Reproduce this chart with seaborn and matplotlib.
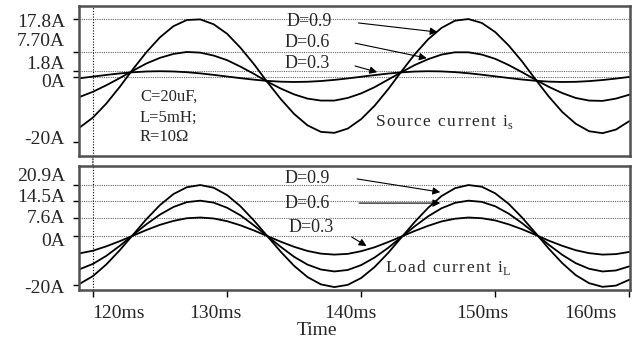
import matplotlib
matplotlib.use('Agg')
import matplotlib.pyplot as plt
import seaborn as sns
from matplotlib.patches import ConnectionPatch
from matplotlib.transforms import ScaledTranslation

# time axis (ms), one sample per ms
time_ms = list(range(119, 161))

# source current i_s (A)
src_d09 = [-15.5, -12.4, -8.1, -3.0, 2.5, 7.7, 12.2, 15.6, 17.5, 17.7,
           16.2, 13.3, 9.0, 4.0, -1.5, -6.7, -11.3, -14.8, -16.8, -17.1,
           -15.8, -12.9, -8.8, -3.8, 1.7, 7.0, 11.6, 15.1, 17.3, 17.8,
           16.6, 13.8, 9.7, 4.8, -0.7, -6.0, -10.7, -14.3, -16.6, -17.2,
           -16.1, -13.5]
src_d06 = [-6.1, -4.5, -2.5, -0.3, 2.0, 4.2, 5.9, 7.1, 7.7, 7.5,
           6.6, 5.2, 3.2, 1.0, -1.4, -3.5, -5.3, -6.6, -7.2, -7.2,
           -6.4, -5.0, -3.1, -0.8, 1.5, 3.7, 5.5, 6.9, 7.6, 7.6,
           6.9, 5.6, 3.7, 1.5, -0.8, -3.0, -4.9, -6.4, -7.2, -7.3,
           -6.6, -5.4]
src_d03 = [-0.36, 0.15, 0.66, 1.12, 1.48, 1.72, 1.80, 1.72, 1.50, 1.14,
           0.68, 0.18, -0.33, -0.79, -1.17, -1.41, -1.50, -1.43, -1.21, -0.86,
           -0.41, 0.10, 0.61, 1.07, 1.45, 1.70, 1.80, 1.74, 1.52, 1.18,
           0.73, 0.23, -0.28, -0.75, -1.13, -1.39, -1.50, -1.45, -1.24, -0.90,
           -0.46, 0.05]

# load current i_L (A)
load_d09 = [-19.6, -16.4, -11.6, -5.8, 0.6, 7.0, 12.7, 17.2, 20.0, 20.9,
            19.8, 16.8, 12.2, 6.4, 0.0, -6.4, -12.2, -16.8, -19.8, -20.9,
            -20.0, -17.2, -12.7, -7.0, -0.6, 5.8, 11.6, 16.4, 19.6, 20.9,
            20.2, 17.5, 13.2, 7.6, 1.3, -5.2, -11.1, -16.0, -19.3, -20.8,
            -20.3, -17.9]
load_d06 = [-13.6, -11.4, -8.1, -4.0, 0.5, 4.9, 8.8, 11.9, 13.9, 14.5,
            13.7, 11.6, 8.5, 4.4, 0.0, -4.4, -8.5, -11.7, -13.7, -14.5,
            -13.9, -11.9, -8.8, -4.9, -0.4, 4.0, 8.1, 11.4, 13.6, 14.5,
            14.0, 12.2, 9.2, 5.3, 0.9, -3.6, -7.7, -11.1, -13.4, -14.5,
            -14.1, -12.4]
load_d03 = [-7.1, -6.0, -4.2, -2.1, 0.2, 2.5, 4.6, 6.2, 7.3, 7.6,
            7.2, 6.1, 4.4, 2.3, 0.0, -2.3, -4.4, -6.1, -7.2, -7.6,
            -7.3, -6.2, -4.6, -2.5, -0.2, 2.1, 4.2, 6.0, 7.1, 7.6,
            7.3, 6.4, 4.8, 2.8, 0.5, -1.9, -4.0, -5.8, -7.0, -7.6,
            -7.4, -6.5]

src_ticks = [17.8, 7.70, 1.8, 0, -20]
src_labels = ['17.8A', '7.70A', '1.8A', '0A', '-20A']
load_ticks = [20.9, 14.5, 7.6, 0, -20]
load_labels = ['20.9A', '14.5A', '7.6A', '0A', '-20A']
x_ticks = [120, 130, 140, 150, 160]
x_labels = ['120ms', '130ms', '140ms', '150ms', '160ms']

sns.set_style('white')
plt.rcParams['font.family'] = ['Liberation Serif', 'DejaVu Serif']
plt.rcParams['mathtext.fontset'] = 'custom'
plt.rcParams['mathtext.rm'] = 'Liberation Serif'


def spaced(s):
    # loose letter spacing as in the original plot annotations
    return '\u200a'.join(s)


fig = plt.figure(figsize=(6.36, 3.4), dpi=100)
ax1 = fig.add_axes([79 / 636, 1 - 156 / 340, 551 / 636, 150 / 340])
ax2 = fig.add_axes([79 / 636, 1 - 290 / 340, 551 / 636, 124 / 340])

for ax, series in [(ax1, [src_d09, src_d06, src_d03]),
                   (ax2, [load_d09, load_d06, load_d03])]:
    for s in series:
        sns.lineplot(x=time_ms, y=s, ax=ax, color='black', lw=1.3, legend=False)

ax1.set_xlim(118.96, 160.05)
ax2.set_xlim(118.96, 160.05)
ax1.set_ylim(-24.2, 21.8)
ax2.set_ylim(-22.1, 28.7)

grid_kw = dict(color='#666666', lw=0.8, ls=(0, (1, 1)), zorder=0)
for v in src_ticks[:4]:
    ax1.axhline(v, **grid_kw)
for v in load_ticks[:4]:
    ax2.axhline(v, **grid_kw)

vkw = dict(color='black', lw=0.8, ls=(0, (1, 1.5)), zorder=0)
ax1.axvline(120, **vkw)
ax2.axvline(120, **vkw)
con = ConnectionPatch(xyA=(120, -24.2), coordsA=ax1.transData,
                      xyB=(120, 28.7), coordsB=ax2.transData, **vkw)
fig.add_artist(con)

for ax in (ax1, ax2):
    for sp in ax.spines.values():
        sp.set_color('#505050')
        sp.set_linewidth(1.8)
    ax.tick_params(axis='y', direction='out', length=4, width=1,
                   color='black', pad=6, labelsize=14, left=True)

ax1.set_yticks(src_ticks, src_labels)
ax2.set_yticks(load_ticks, load_labels)
ax1.set_xticks([])
ax2.set_xticks(x_ticks, x_labels)
ax2.tick_params(axis='x', direction='out', length=5, width=1,
                color='black', pad=6, labelsize=14, bottom=True)
ax2.set_xlabel('Time', fontsize=14)
ax2.xaxis.set_label_coords(0.432, -0.255)
ax1.set_ylabel('')

# nudge tick labels to where the original plot puts them
src_shift = [-1, 12, 9, -3, 5]
load_shift = [11, 5, 1, -3, -2]
for ax, shifts in [(ax1, src_shift), (ax2, load_shift)]:
    for tick, dy in zip(ax.yaxis.get_major_ticks(), shifts):
        tick.label1.set_transform(tick.label1.get_transform() +
                                  ScaledTranslation(0, dy / 100, fig.dpi_scale_trans))
x_shift = [26, -12, -11, -13, -39]
for tick, dx in zip(ax2.xaxis.get_major_ticks(), x_shift):
    tick.label1.set_transform(tick.label1.get_transform() +
                              ScaledTranslation(dx / 100, 0, fig.dpi_scale_trans))

arrow = dict(arrowstyle='-|>', color='black', lw=0.8,
             shrinkA=0, shrinkB=0, mutation_scale=11)

# source current panel labels
ax1.text(136.1, 17.2, 'D=0.9', fontsize=13, ha='center', va='center')
ax1.annotate('', xy=(145.7, 13.8), xytext=(139.8, 16.6), arrowprops=arrow)
ax1.text(136.0, 10.7, 'D=0.6', fontsize=13, ha='center', va='center')
ax1.annotate('', xy=(144.9, 5.8), xytext=(139.55, 10.4), arrowprops=arrow)
ax1.text(136.0, 4.3, 'D=0.3', fontsize=13, ha='center', va='center')
ax1.annotate('', xy=(141.2, 1.5), xytext=(139.55, 3.4), arrowprops=arrow)
ax1.text(123.5, -6.1, 'C=20uF,', fontsize=12, va='center')
ax1.text(123.5, -12.3, 'L=5mH;', fontsize=12, va='center')
ax1.text(123.5, -18.4, 'R=10\u03a9', fontsize=12, va='center')
ax1.text(141.0, -13.8, spaced('Source current i') + '$_{\\rm s}$',
         fontsize=12.5, va='center')

# load current panel labels
ax2.text(136.0, 23.4, 'D=0.9', fontsize=13, ha='center', va='center')
ax2.annotate('', xy=(145.9, 18.0), xytext=(139.7, 23.4), arrowprops=arrow)
ax2.text(136.0, 13.5, 'D=0.6', fontsize=13, ha='center', va='center')
ax2.annotate('', xy=(145.9, 13.5), xytext=(139.85, 13.5), arrowprops=arrow)
ax2.text(136.3, 3.3, 'D=0.3', fontsize=13, ha='center', va='center')
ax2.annotate('', xy=(140.4, -4.1), xytext=(139.3, -0.4), arrowprops=arrow)
ax2.text(141.8, -12.7, spaced('Load current i') + '$_{\\rm L}$',
         fontsize=12.5, va='center')

fig.savefig('out.png', dpi=100)
